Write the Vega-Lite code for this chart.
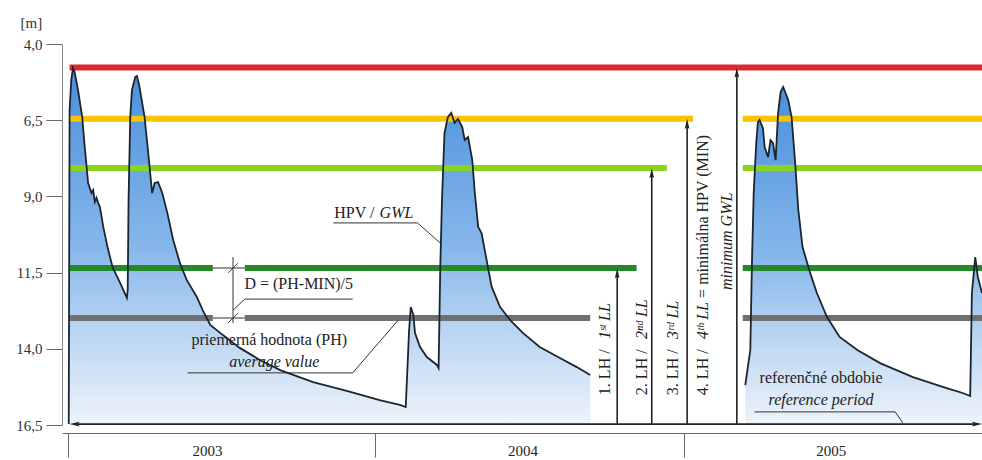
{
  "$schema": "https://vega.github.io/schema/vega-lite/v6.json",
  "width": 920,
  "height": 381,
  "autosize": {"type": "none"},
  "padding": {"left": 62, "top": 44, "right": 0, "bottom": 35},
  "background": "white",
  "config": {
    "view": {"stroke": null},
    "font": "Liberation Serif",
    "text": {"font": "Liberation Serif", "fontSize": 16, "color": "#222"}
  },
  "resolve": {"axis": {"x": "independent", "y": "independent"}},
  "datasets": {
    "gwl": [
      {"date": "2003-01-02", "depth": 16.47, "seg": "A"},
      {"date": "2003-01-03", "depth": 6.17, "seg": "A"},
      {"date": "2003-01-05", "depth": 5.18, "seg": "A"},
      {"date": "2003-01-07", "depth": 4.79, "seg": "A"},
      {"date": "2003-01-09", "depth": 4.92, "seg": "A"},
      {"date": "2003-01-13", "depth": 5.51, "seg": "A"},
      {"date": "2003-01-18", "depth": 6.40, "seg": "A"},
      {"date": "2003-01-21", "depth": 7.38, "seg": "A"},
      {"date": "2003-01-25", "depth": 8.56, "seg": "A"},
      {"date": "2003-01-29", "depth": 8.89, "seg": "A"},
      {"date": "2003-01-31", "depth": 8.79, "seg": "A"},
      {"date": "2003-02-02", "depth": 9.18, "seg": "A"},
      {"date": "2003-02-04", "depth": 9.05, "seg": "A"},
      {"date": "2003-02-06", "depth": 9.22, "seg": "A"},
      {"date": "2003-02-08", "depth": 9.35, "seg": "A"},
      {"date": "2003-02-12", "depth": 10.00, "seg": "A"},
      {"date": "2003-02-17", "depth": 10.66, "seg": "A"},
      {"date": "2003-02-23", "depth": 11.32, "seg": "A"},
      {"date": "2003-03-04", "depth": 11.84, "seg": "A"},
      {"date": "2003-03-12", "depth": 12.33, "seg": "A"},
      {"date": "2003-03-13", "depth": 12.07, "seg": "A"},
      {"date": "2003-03-14", "depth": 9.12, "seg": "A"},
      {"date": "2003-03-16", "depth": 6.40, "seg": "A"},
      {"date": "2003-03-18", "depth": 5.51, "seg": "A"},
      {"date": "2003-03-22", "depth": 5.08, "seg": "A"},
      {"date": "2003-03-24", "depth": 5.05, "seg": "A"},
      {"date": "2003-03-27", "depth": 5.41, "seg": "A"},
      {"date": "2003-04-02", "depth": 6.40, "seg": "A"},
      {"date": "2003-04-06", "depth": 7.48, "seg": "A"},
      {"date": "2003-04-11", "depth": 8.89, "seg": "A"},
      {"date": "2003-04-14", "depth": 8.56, "seg": "A"},
      {"date": "2003-04-18", "depth": 8.53, "seg": "A"},
      {"date": "2003-04-23", "depth": 8.89, "seg": "A"},
      {"date": "2003-04-29", "depth": 9.54, "seg": "A"},
      {"date": "2003-05-06", "depth": 10.43, "seg": "A"},
      {"date": "2003-05-14", "depth": 11.19, "seg": "A"},
      {"date": "2003-05-22", "depth": 11.74, "seg": "A"},
      {"date": "2003-06-03", "depth": 12.30, "seg": "A"},
      {"date": "2003-06-10", "depth": 12.73, "seg": "A"},
      {"date": "2003-06-19", "depth": 13.22, "seg": "A"},
      {"date": "2003-07-04", "depth": 13.55, "seg": "A"},
      {"date": "2003-07-24", "depth": 13.97, "seg": "A"},
      {"date": "2003-08-17", "depth": 14.37, "seg": "A"},
      {"date": "2003-09-10", "depth": 14.70, "seg": "A"},
      {"date": "2003-10-19", "depth": 15.09, "seg": "A"},
      {"date": "2003-11-28", "depth": 15.38, "seg": "A"},
      {"date": "2004-01-06", "depth": 15.68, "seg": "A"},
      {"date": "2004-01-30", "depth": 15.84, "seg": "A"},
      {"date": "2004-02-06", "depth": 15.91, "seg": "A"},
      {"date": "2004-02-10", "depth": 13.38, "seg": "A"},
      {"date": "2004-02-12", "depth": 12.63, "seg": "A"},
      {"date": "2004-02-15", "depth": 12.89, "seg": "A"},
      {"date": "2004-02-17", "depth": 13.48, "seg": "A"},
      {"date": "2004-02-23", "depth": 13.94, "seg": "A"},
      {"date": "2004-03-02", "depth": 14.27, "seg": "A"},
      {"date": "2004-03-14", "depth": 14.53, "seg": "A"},
      {"date": "2004-03-16", "depth": 14.63, "seg": "A"},
      {"date": "2004-03-18", "depth": 11.32, "seg": "A"},
      {"date": "2004-03-20", "depth": 9.12, "seg": "A"},
      {"date": "2004-03-23", "depth": 6.92, "seg": "A"},
      {"date": "2004-03-27", "depth": 6.40, "seg": "A"},
      {"date": "2004-03-31", "depth": 6.26, "seg": "A"},
      {"date": "2004-04-02", "depth": 6.43, "seg": "A"},
      {"date": "2004-04-04", "depth": 6.59, "seg": "A"},
      {"date": "2004-04-08", "depth": 6.46, "seg": "A"},
      {"date": "2004-04-13", "depth": 6.72, "seg": "A"},
      {"date": "2004-04-16", "depth": 7.15, "seg": "A"},
      {"date": "2004-04-20", "depth": 7.05, "seg": "A"},
      {"date": "2004-04-25", "depth": 7.81, "seg": "A"},
      {"date": "2004-04-28", "depth": 8.89, "seg": "A"},
      {"date": "2004-05-02", "depth": 10.00, "seg": "A"},
      {"date": "2004-05-06", "depth": 10.20, "seg": "A"},
      {"date": "2004-05-12", "depth": 11.09, "seg": "A"},
      {"date": "2004-05-18", "depth": 11.97, "seg": "A"},
      {"date": "2004-05-28", "depth": 12.63, "seg": "A"},
      {"date": "2004-06-09", "depth": 13.06, "seg": "A"},
      {"date": "2004-06-24", "depth": 13.48, "seg": "A"},
      {"date": "2004-07-14", "depth": 13.94, "seg": "A"},
      {"date": "2004-08-07", "depth": 14.30, "seg": "A"},
      {"date": "2004-08-27", "depth": 14.60, "seg": "A"},
      {"date": "2004-09-12", "depth": 14.86, "seg": "A"},
      {"date": "2005-03-15", "depth": 15.19, "seg": "B"},
      {"date": "2005-03-21", "depth": 14.04, "seg": "B"},
      {"date": "2005-03-23", "depth": 11.09, "seg": "B"},
      {"date": "2005-03-25", "depth": 8.89, "seg": "B"},
      {"date": "2005-03-28", "depth": 7.25, "seg": "B"},
      {"date": "2005-03-30", "depth": 6.56, "seg": "B"},
      {"date": "2005-04-01", "depth": 6.49, "seg": "B"},
      {"date": "2005-04-05", "depth": 6.76, "seg": "B"},
      {"date": "2005-04-07", "depth": 7.38, "seg": "B"},
      {"date": "2005-04-11", "depth": 7.71, "seg": "B"},
      {"date": "2005-04-14", "depth": 7.15, "seg": "B"},
      {"date": "2005-04-17", "depth": 7.25, "seg": "B"},
      {"date": "2005-04-20", "depth": 7.81, "seg": "B"},
      {"date": "2005-04-23", "depth": 6.26, "seg": "B"},
      {"date": "2005-04-26", "depth": 5.57, "seg": "B"},
      {"date": "2005-04-29", "depth": 5.41, "seg": "B"},
      {"date": "2005-05-05", "depth": 5.84, "seg": "B"},
      {"date": "2005-05-09", "depth": 6.40, "seg": "B"},
      {"date": "2005-05-13", "depth": 7.81, "seg": "B"},
      {"date": "2005-05-17", "depth": 9.45, "seg": "B"},
      {"date": "2005-05-22", "depth": 10.66, "seg": "B"},
      {"date": "2005-05-31", "depth": 11.51, "seg": "B"},
      {"date": "2005-06-08", "depth": 12.17, "seg": "B"},
      {"date": "2005-06-20", "depth": 12.96, "seg": "B"},
      {"date": "2005-07-05", "depth": 13.61, "seg": "B"},
      {"date": "2005-07-26", "depth": 14.04, "seg": "B"},
      {"date": "2005-08-22", "depth": 14.47, "seg": "B"},
      {"date": "2005-09-30", "depth": 14.93, "seg": "B"},
      {"date": "2005-11-09", "depth": 15.29, "seg": "B"},
      {"date": "2005-11-28", "depth": 15.45, "seg": "B"},
      {"date": "2005-12-07", "depth": 15.55, "seg": "B"},
      {"date": "2005-12-09", "depth": 12.17, "seg": "B"},
      {"date": "2005-12-13", "depth": 10.99, "seg": "B"},
      {"date": "2005-12-16", "depth": 11.64, "seg": "B"},
      {"date": "2005-12-21", "depth": 12.17, "seg": "B"}
    ],
    "levels": [
      {"level": "MIN", "depth": 4.77, "start": "2003-01-03", "end": "2005-12-21"},
      {"level": "LL3", "depth": 6.45, "start": "2003-01-03", "end": "2005-01-12"},
      {"level": "LL3", "depth": 6.45, "start": "2005-03-12", "end": "2005-12-21"},
      {"level": "LL2", "depth": 8.07, "start": "2003-01-03", "end": "2004-12-12"},
      {"level": "LL2", "depth": 8.07, "start": "2005-03-12", "end": "2005-12-21"},
      {"level": "LL1", "depth": 11.35, "start": "2003-01-03", "end": "2003-06-22"},
      {"level": "LL1", "depth": 11.35, "start": "2003-07-30", "end": "2004-11-06"},
      {"level": "LL1", "depth": 11.35, "start": "2005-03-12", "end": "2005-12-21"},
      {"level": "PH", "depth": 12.99, "start": "2003-01-03", "end": "2003-06-22"},
      {"level": "PH", "depth": 12.99, "start": "2003-07-30", "end": "2004-09-12"},
      {"level": "PH", "depth": 12.99, "start": "2005-03-12", "end": "2005-12-21"}
    ],
    "leaders": [
      {"x1": "2003-06-22", "x2": "2003-07-30", "y1": 11.35, "y2": 11.35},
      {"x1": "2003-06-22", "x2": "2003-07-30", "y1": 12.99, "y2": 12.99},
      {"x1": "2003-07-16", "x2": "2003-07-16", "y1": 10.99, "y2": 13.15},
      {"x1": "2003-07-16", "x2": "2003-07-30", "y1": 12.73, "y2": 12.37},
      {"x1": "2003-07-30", "x2": "2003-12-05", "y1": 12.37, "y2": 12.37},
      {"x1": "2003-11-12", "x2": "2004-02-20", "y1": 9.87, "y2": 9.87},
      {"x1": "2004-02-20", "x2": "2004-03-18", "y1": 9.87, "y2": 10.53},
      {"x1": "2003-05-23", "x2": "2003-12-05", "y1": 14.79, "y2": 14.79},
      {"x1": "2003-12-05", "x2": "2004-01-28", "y1": 14.79, "y2": 13.06},
      {"x1": "2005-03-26", "x2": "2005-09-09", "y1": 16.07, "y2": 16.07},
      {"x1": "2005-09-09", "x2": "2005-09-18", "y1": 16.07, "y2": 16.43}
    ],
    "arrows": [
      {"x1": "2004-10-14", "x2": "2004-10-14", "y1": 16.47, "y2": 11.5},
      {"x1": "2004-11-24", "x2": "2004-11-24", "y1": 16.47, "y2": 8.2},
      {"x1": "2005-01-05", "x2": "2005-01-05", "y1": 16.47, "y2": 6.6},
      {"x1": "2005-03-05", "x2": "2005-03-05", "y1": 16.47, "y2": 4.9},
      {"x1": "2003-01-08", "x2": "2005-12-17", "y1": 16.47, "y2": 16.47}
    ],
    "heads": [
      {"date": "2004-10-14", "depth": 11.55, "dir": "up"},
      {"date": "2004-11-24", "depth": 8.27, "dir": "up"},
      {"date": "2005-01-05", "depth": 6.65, "dir": "up"},
      {"date": "2005-03-05", "depth": 4.97, "dir": "up"},
      {"date": "2003-01-10", "depth": 16.47, "dir": "left"},
      {"date": "2005-12-14", "depth": 16.47, "dir": "right"}
    ],
    "slashes": [
      {"date": "2003-07-16", "depth": 11.35},
      {"date": "2003-07-16", "depth": 12.99}
    ],
    "hlabels": [
      {"date": "2003-12-07", "depth": 9.54, "text": "HPV /", "italic": false},
      {"date": "2004-01-26", "depth": 9.54, "text": "GWL", "italic": true},
      {"date": "2003-10-02", "depth": 11.86, "text": "D = (PH-MIN)/5", "italic": false},
      {"date": "2003-08-28", "depth": 13.71, "text": "priemerná hodnota (PH)", "italic": false},
      {"date": "2003-09-03", "depth": 14.43, "text": "average value", "italic": true},
      {"date": "2005-06-13", "depth": 14.96, "text": "referenčné obdobie", "italic": false},
      {"date": "2005-06-13", "depth": 15.68, "text": "reference period", "italic": true}
    ],
    "vlabels": [
      {"date": "2004-09-29", "depth": 15.52, "text": "1. LH /", "italic": false},
      {"date": "2004-09-29", "depth": 13.68, "text": "1ˢᵗ LL", "italic": true},
      {"date": "2004-11-12", "depth": 15.52, "text": "2. LH /", "italic": false},
      {"date": "2004-11-12", "depth": 13.68, "text": "2ⁿᵈ LL", "italic": true},
      {"date": "2004-12-19", "depth": 15.52, "text": "3. LH /", "italic": false},
      {"date": "2004-12-19", "depth": 13.68, "text": "3ʳᵈ LL", "italic": true},
      {"date": "2005-01-24", "depth": 15.52, "text": "4. LH /", "italic": false},
      {"date": "2005-01-24", "depth": 13.68, "text": "4ᵗʰ LL", "italic": true},
      {"date": "2005-01-24", "depth": 12.33, "text": "= minimálna HPV (MIN)", "italic": false},
      {"date": "2005-02-21", "depth": 12.07, "text": "minimum GWL", "italic": true}
    ]
  },
  "layer": [
    {
      "data": {"name": "gwl"},
      "mark": {
        "type": "area",
        "color": {
          "gradient": "linear", "x1": 0, "y1": 0, "x2": 0, "y2": 1,
          "stops": [
            {"offset": 0, "color": "#4a8edb"},
            {"offset": 0.5, "color": "#86b7eb"},
            {"offset": 0.75, "color": "#bcd6f2"},
            {"offset": 1, "color": "#eef4fb"}
          ]
        }
      },
      "encoding": {
        "x": {
          "field": "date", "type": "temporal",
          "scale": {"domain": [{"year": 2002, "month": 12, "date": 25}, {"year": 2005, "month": 12, "date": 21}]},
          "axis": {
            "orient": "bottom",
            "values": [{"year": 2003, "month": 1, "date": 1}, {"year": 2004, "month": 1, "date": 1}, {"year": 2005, "month": 1, "date": 1}],
            "format": "%Y", "title": null, "grid": false, "offset": 8,
            "tickSize": 24, "labelPadding": -14,
            "labelOffset": {"condition": {"test": "year(datum.value) == 2003", "value": 139}, "value": 147},
            "labelFont": "Liberation Serif", "labelFontSize": 15, "labelColor": "#222",
            "domainColor": "#666", "tickColor": "#666", "labelAngle": 0
          }
        },
        "y": {
          "field": "depth", "type": "quantitative",
          "scale": {"domain": [4, 16.5], "reverse": true, "nice": false, "zero": false},
          "axis": {
            "orient": "left",
            "values": [4, 6.5, 9, 11.5, 14, 16.5],
            "labelExpr": "replace(format(datum.value, '.1f'), '.', ',')",
            "title": "[m]", "titleAngle": 0, "titleX": -42, "titleY": -22,
            "titleAlign": "left", "titleBaseline": "middle",
            "titleFont": "Liberation Serif", "titleFontSize": 15, "titleFontWeight": "normal", "titleColor": "#333",
            "tickSize": 16, "labelPadding": 4, "grid": false,
            "labelFont": "Liberation Serif", "labelFontSize": 15, "labelColor": "#333",
            "domainColor": "#888", "tickColor": "#666"
          }
        },
        "y2": {"datum": 16.5},
        "detail": {"field": "seg"}
      }
    },
    {
      "data": {"name": "levels"},
      "mark": {"type": "rule", "strokeCap": "butt"},
      "encoding": {
        "x": {"field": "start", "type": "temporal", "axis": null},
        "x2": {"field": "end"},
        "y": {"field": "depth", "type": "quantitative", "axis": null},
        "color": {"field": "level", "type": "nominal", "legend": null,
          "scale": {"domain": ["MIN", "LL3", "LL2", "LL1", "PH"], "range": ["#d92a33", "#f8c300", "#8ad31e", "#23892a", "#707070"]}},
        "strokeWidth": {"field": "level", "type": "nominal", "legend": null,
          "scale": {"domain": ["MIN", "LL3", "LL2", "LL1", "PH"], "range": [6, 6, 6, 6, 4]}}
      }
    },
    {
      "data": {"name": "leaders"},
      "mark": {"type": "rule", "color": "#333", "strokeWidth": 1},
      "encoding": {
        "x": {"field": "x1", "type": "temporal", "axis": null},
        "x2": {"field": "x2"},
        "y": {"field": "y1", "type": "quantitative", "axis": null},
        "y2": {"field": "y2"}
      }
    },
    {
      "data": {"name": "slashes"},
      "mark": {"type": "point", "shape": "M-1,1L1,-1", "filled": false, "color": "#333", "strokeWidth": 1, "size": 90, "opacity": 1},
      "encoding": {
        "x": {"field": "date", "type": "temporal", "axis": null},
        "y": {"field": "depth", "type": "quantitative", "axis": null}
      }
    },
    {
      "data": {"name": "gwl"},
      "mark": {"type": "line", "color": "#1b2530", "strokeWidth": 1.8},
      "encoding": {
        "x": {"field": "date", "type": "temporal", "axis": null},
        "y": {"field": "depth", "type": "quantitative", "axis": null},
        "detail": {"field": "seg"}
      }
    },
    {
      "data": {"name": "arrows"},
      "mark": {"type": "rule", "color": "#222", "strokeWidth": 1.6},
      "encoding": {
        "x": {"field": "x1", "type": "temporal", "axis": null},
        "x2": {"field": "x2"},
        "y": {"field": "y1", "type": "quantitative", "axis": null},
        "y2": {"field": "y2"}
      }
    },
    {
      "data": {"name": "heads"},
      "mark": {"type": "point", "filled": true, "color": "#222", "size": 140, "opacity": 1},
      "encoding": {
        "x": {"field": "date", "type": "temporal", "axis": null},
        "y": {"field": "depth", "type": "quantitative", "axis": null},
        "shape": {"field": "dir", "type": "nominal", "legend": null,
          "scale": {"domain": ["up", "left", "right"], "range": ["M0,-1L0.4,0.7L0,0.4L-0.4,0.7Z", "M-1,0L0.7,-0.4L0.4,0L0.7,0.4Z", "M1,0L-0.7,-0.4L-0.4,0L-0.7,0.4Z"]}}
      }
    },
    {
      "data": {"name": "hlabels"},
      "transform": [{"filter": "!datum.italic"}],
      "mark": {"type": "text", "align": "center", "baseline": "middle"},
      "encoding": {
        "x": {"field": "date", "type": "temporal", "axis": null},
        "y": {"field": "depth", "type": "quantitative", "axis": null},
        "text": {"field": "text"}
      }
    },
    {
      "data": {"name": "hlabels"},
      "transform": [{"filter": "datum.italic"}],
      "mark": {"type": "text", "align": "center", "baseline": "middle", "fontStyle": "italic"},
      "encoding": {
        "x": {"field": "date", "type": "temporal", "axis": null},
        "y": {"field": "depth", "type": "quantitative", "axis": null},
        "text": {"field": "text"}
      }
    },
    {
      "data": {"name": "vlabels"},
      "transform": [{"filter": "!datum.italic"}],
      "mark": {"type": "text", "align": "left", "baseline": "middle", "angle": 270},
      "encoding": {
        "x": {"field": "date", "type": "temporal", "axis": null},
        "y": {"field": "depth", "type": "quantitative", "axis": null},
        "text": {"field": "text"}
      }
    },
    {
      "data": {"name": "vlabels"},
      "transform": [{"filter": "datum.italic"}],
      "mark": {"type": "text", "align": "left", "baseline": "middle", "angle": 270, "fontStyle": "italic"},
      "encoding": {
        "x": {"field": "date", "type": "temporal", "axis": null},
        "y": {"field": "depth", "type": "quantitative", "axis": null},
        "text": {"field": "text"}
      }
    }
  ]
}
